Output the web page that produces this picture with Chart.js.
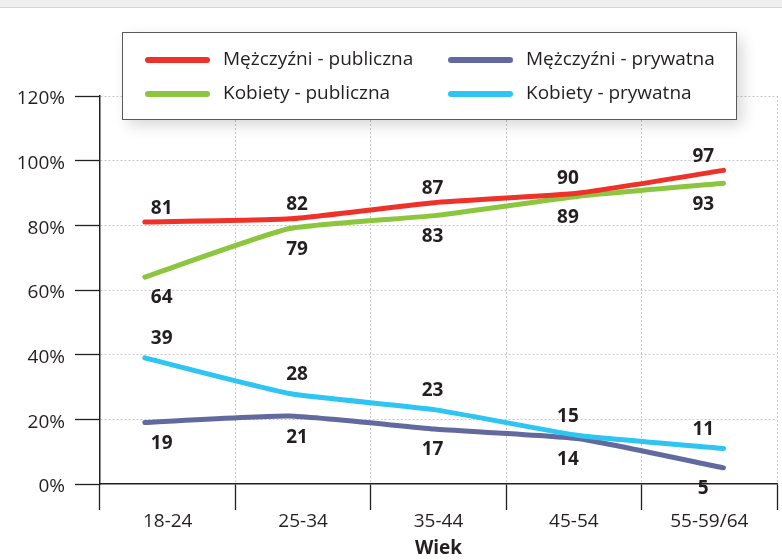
<!DOCTYPE html>
<html lang="pl">
<head>
<meta charset="utf-8">
<title>Wiek</title>
<script src="https://cdn.jsdelivr.net/npm/chart.js@4.4.1/dist/chart.umd.min.js"></script>
<style>
    html, body { margin: 0; padding: 0; background: #fff; }
    #wrap { position: relative; width: 782px; height: 560px; }
    #topbar { position: absolute; left: 0; top: 0; width: 782px; height: 7px; background: #efefef; border-bottom: 1px solid #d4d4d4; }
</style>
</head>
<body>
<div id="wrap">
    <div id="topbar"></div>
    <canvas id="chart"></canvas>
</div>
<script>
const ageGroups = ['18-24', '25-34', '35-44', '45-54', '55-59/64'];
const menPublic = [81, 82, 87, 90, 97];
const womenPublic = [64, 79, 83, 89, 93];
const menPrivate = [19, 21, 17, 14, 5];
const womenPrivate = [39, 28, 23, 15, 11];
const yTicks = [0, 20, 40, 60, 80, 100, 120];
const xTitle = 'Wiek';

// legend reads row by row: men on top, women below
const legendOrder = ['Mężczyźni - publiczna', 'Mężczyźni - prywatna', 'Kobiety - publiczna', 'Kobiety - prywatna'];

const FONT = "'Open Sans', 'Noto Sans', sans-serif";
const TEXT = '#231f20';

function makeLine(label, values, color, labelShift) {
    return {
        label: label,
        data: values.map((v, i) => ({ x: i, y: v })),
        xAxisID: 'xl',
        borderColor: color,
        backgroundColor: color,
        borderWidth: 5,
        borderCapStyle: 'round',
        borderJoinStyle: 'round',
        pointRadius: 0,
        tension: 0.15,
        fill: false,
        labelShift: labelShift
    };
}

// numbers next to each point, placed by category centre
const valueLabels = {
    id: 'valueLabels',
    afterDatasetsDraw(chart) {
        const ctx = chart.ctx;
        const xs = chart.scales.x;
        const ys = chart.scales.y;
        ctx.save();
        ctx.font = 'bold 19px ' + FONT;
        ctx.fillStyle = TEXT;
        ctx.textAlign = 'center';
        ctx.textBaseline = 'middle';
        chart.data.datasets.forEach(ds => {
            ds.data.forEach((p, i) => {
                ctx.fillText(String(p.y), xs.getPixelForValue(i) - 6, ys.getPixelForValue(p.y) + ds.labelShift);
            });
        });
        ctx.restore();
    }
};

const legendBox = {
    id: 'legendBox',
    afterDraw(chart) {
        const ctx = chart.ctx;
        const bx = 122, by = 32, bw = 614, bh = 87;
        ctx.save();
        ctx.shadowColor = 'rgba(0,0,0,0.16)';
        ctx.shadowBlur = 14;
        ctx.shadowOffsetX = 6;
        ctx.shadowOffsetY = 6;
        ctx.fillStyle = '#fff';
        ctx.fillRect(bx, by, bw, bh);
        ctx.restore();

        ctx.save();
        ctx.strokeStyle = '#5a5a5a';
        ctx.lineWidth = 1;
        ctx.strokeRect(bx + 0.5, by + 0.5, bw, bh);

        ctx.font = '19px ' + FONT;
        ctx.fillStyle = TEXT;
        ctx.textBaseline = 'middle';
        ctx.lineCap = 'round';
        ctx.lineWidth = 6;
        legendOrder.forEach((name, i) => {
            const ds = chart.data.datasets.find(d => d.label === name);
            if (!ds) return;
            const col = i % 2;
            const row = Math.floor(i / 2);
            const lx = col === 0 ? 148 : 451;
            const ly = row === 0 ? 60 : 94;
            ctx.strokeStyle = ds.borderColor;
            ctx.beginPath();
            ctx.moveTo(lx, ly);
            ctx.lineTo(lx + 59, ly);
            ctx.stroke();
            ctx.fillText(name, lx + 75, ly);
        });
        ctx.restore();
    }
};

new Chart(document.getElementById('chart'), {
    type: 'line',
    data: {
        labels: ageGroups,
        datasets: [
            makeLine('Mężczyźni - publiczna', menPublic, '#ee3129', -14),
            makeLine('Kobiety - prywatna', womenPrivate, '#2ec5f2', -19),
            makeLine('Kobiety - publiczna', womenPublic, '#8cc63f', 21),
            makeLine('Mężczyźni - prywatna', menPrivate, '#62699e', 21)
        ]
    },
    options: {
        responsive: true,
        maintainAspectRatio: false,
        animation: false,
        layout: { padding: { top: 96, right: 5, left: 0, bottom: 0 } },
        plugins: {
            legend: { display: false },
            tooltip: { enabled: false }
        },
        scales: {
            x: {
                type: 'category',
                offset: true,
                grid: {
                    offset: true,
                    color: '#c8c8c8',
                    tickColor: TEXT,
                    tickLength: 26,
                    tickWidth: 1.3,
                    lineWidth: 1
                },
                border: { color: TEXT, width: 1.5, dash: [2, 2] },
                ticks: {
                    color: TEXT,
                    padding: 0,
                    maxRotation: 0,
                    font: { family: FONT, size: 19 }
                },
                title: {
                    display: true,
                    text: xTitle,
                    color: TEXT,
                    padding: { top: 0, bottom: 0 },
                    font: { family: FONT, size: 19, weight: 'bold' }
                },
                afterFit: scale => { scale.height = 76; }
            },
            xl: {
                type: 'linear',
                display: false,
                min: -0.31,
                max: 4.37
            },
            y: {
                min: 0,
                max: 120,
                afterBuildTicks: scale => { scale.ticks = yTicks.map(v => ({ value: v })); },
                grid: {
                    color: c => (c.tick && c.tick.value === 0) ? 'rgba(0,0,0,0)' : '#c8c8c8',
                    tickColor: TEXT,
                    tickLength: 25,
                    tickWidth: 1.3,
                    lineWidth: 1
                },
                border: { color: TEXT, width: 1.5, dash: [2, 2] },
                ticks: {
                    color: TEXT,
                    padding: 10,
                    labelOffset: 3,
                    font: { family: FONT, size: 19 },
                    callback: v => v + '%'
                },
                afterFit: scale => { scale.width = 100; }
            }
        }
    },
    plugins: [valueLabels, legendBox]
});
</script>
</body>
</html>
